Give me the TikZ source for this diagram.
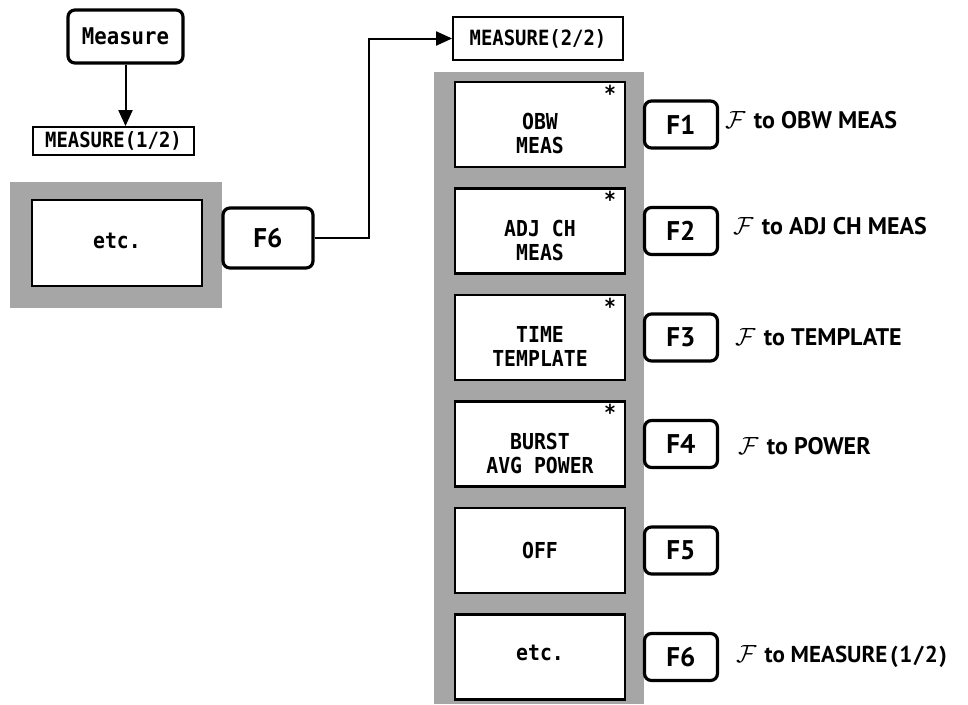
\documentclass[tikz,border=0pt]{standalone}
\usepackage{fontspec}
\setmainfont{PT Sans}
\newfontfamily\dotmono[FakeStretch=0.9]{DejaVu Sans Mono}
\usetikzlibrary{arrows.meta}
\tikzset{
  menubox/.style={draw, line width=2.2pt, fill=white, minimum width=170pt, minimum height=85pt, inner sep=0pt},
  menutext/.style={font=\dotmono\bfseries\fontsize{22}{24}\selectfont, align=center, inner sep=0pt},
  titlebox/.style={draw, line width=1.8pt, fill=white, inner sep=0pt, font=\dotmono\bfseries\fontsize{21}{23}\selectfont},
  fkey/.style={draw, line width=3.2pt, rounded corners=7pt, fill=white, minimum width=73pt, minimum height=47pt, inner sep=0pt, font=\bfseries\fontsize{27}{27}\selectfont},
  hint/.style={anchor=west, inner sep=0pt, font=\bfseries\fontsize{24}{24}\selectfont},
  star/.style={inner sep=0pt, font=\dotmono\bfseries\fontsize{22}{22}\selectfont},
  shade/.style={fill=black!35},
  arr/.style={line width=2pt, -{Triangle[length=16pt, width=14pt]}},
}
\newcommand{\hand}{$\mathcal{F}$\hspace{0.35em}}
\begin{document}
\begin{tikzpicture}[x=1pt, y=-1pt]
\useasboundingbox (0,0) rectangle (968,704);
% shaded backgrounds
\fill[shade] (10,182) rectangle (222,308);
\fill[shade] (434,72) rectangle (644,704);

% left column
\node[fkey, minimum width=115pt, minimum height=53pt, font=\dotmono\bfseries\fontsize{23}{23}\selectfont] (measure) at (125.5,36.5) {Measure};
\node[titlebox, minimum width=161pt, minimum height=28pt] (m12) at (113.5,141) {MEASURE(1/2)};
\node[menubox, minimum height=86pt] (etcl) at (117,243) {};
\node[menutext] (etclt) at (117,241) {etc.};
\node[fkey, minimum width=90pt, minimum height=60pt] (f6l) at (268,238) {F6};

% right column title
\node[titlebox, minimum width=170pt, minimum height=43pt] (m22) at (538,38.5) {MEASURE(2/2)};

% menu boxes
\node[menubox] (b1) at (540,124.5) {};
\node[menubox] (b2) at (540,231) {};
\node[menubox] (b3) at (540,337.5) {};
\node[menubox] (b4) at (540,444) {};
\node[menubox] (b5) at (540,550.5) {};
\node[menubox] (b6) at (540,657) {};

\node[menutext] (t1) at ([yshift=-9pt]b1.center) {OBW\\MEAS};
\node[menutext] (t2) at ([yshift=-9pt]b2.center) {ADJ CH\\MEAS};
\node[menutext] (t3) at ([yshift=-9pt]b3.center) {TIME\\TEMPLATE};
\node[menutext] (t4) at ([yshift=-9pt]b4.center) {BURST\\AVG POWER};
\node[menutext] (t5) at (b5.center) {OFF};
\node[menutext] (t6) at ([yshift=4pt]b6.center) {etc.};

\node[star] (s1) at ([xshift=-16pt, yshift=-12pt]b1.north east) {*};
\node[star] (s2) at ([xshift=-16pt, yshift=-12pt]b2.north east) {*};
\node[star] (s3) at ([xshift=-16pt, yshift=-12pt]b3.north east) {*};
\node[star] (s4) at ([xshift=-16pt, yshift=-12pt]b4.north east) {*};

% function keys
\node[fkey] (f1) at (681,124.5) {F1};
\node[fkey] (f2) at (681,231) {F2};
\node[fkey] (f3) at (681,337.5) {F3};
\node[fkey] (f4) at (681,444) {F4};
\node[fkey] (f5) at (681,550.5) {F5};
\node[fkey] (f6) at (681,657) {F6};

% hints
\node[hint] (h1) at (725,120) {\hand to OBW MEAS};
\node[hint] (h2) at (733,226) {\hand to ADJ CH MEAS};
\node[hint] (h3) at (735,337) {\hand to TEMPLATE};
\node[hint] (h4) at (738,446) {\hand to POWER};
\node[hint, font=\bfseries\fontsize{23}{23}\selectfont] (h6) at (736,657) {\hand to MEASURE\kern3pt(\kern1.5pt1\kern1.5pt/\kern1.5pt2\kern1.5pt)};

% connectors
\draw[arr] (measure.south) -- (measure.south |- m12.north);
\draw[arr] (f6l.east) -- ++(54,0) |- (m22.west);
\end{tikzpicture}
\end{document}
